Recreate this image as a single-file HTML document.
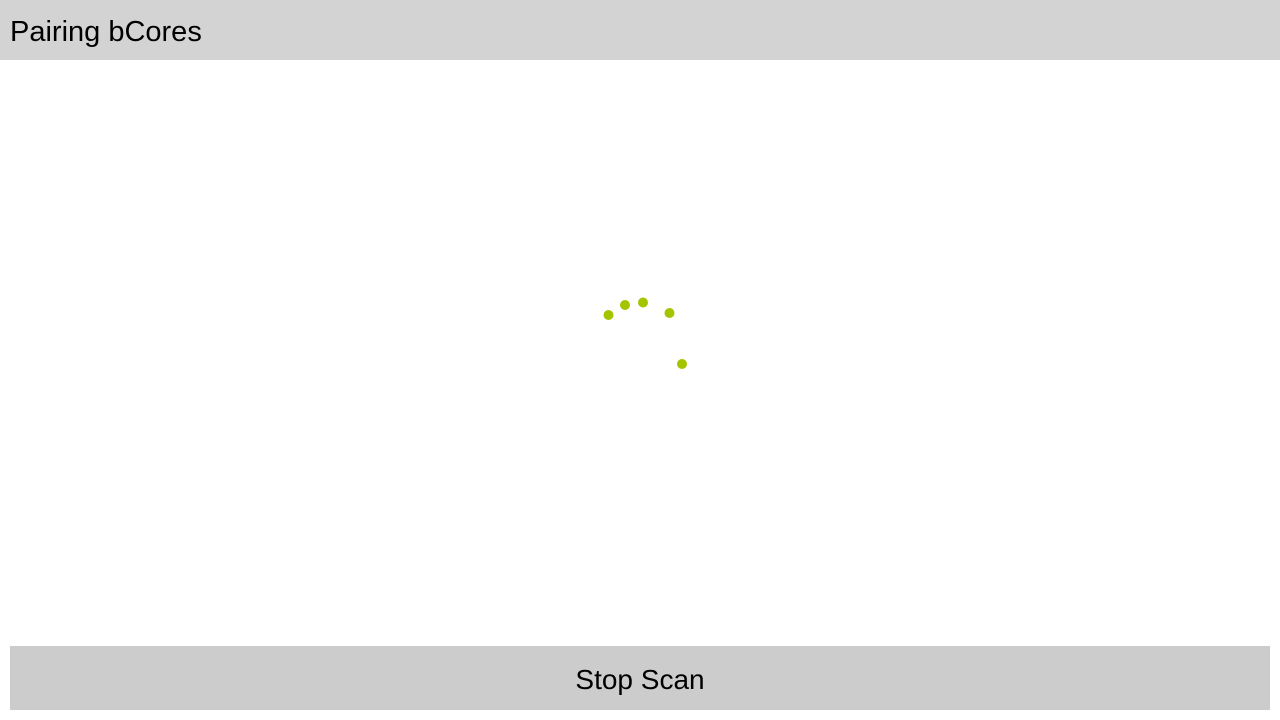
<!DOCTYPE html>
<html>
<head>
<meta charset="utf-8">
<style>
  html,body{margin:0;padding:0;width:1280px;height:720px;background:#fff;overflow:hidden;font-family:"Segoe UI","Liberation Sans",sans-serif;}
  #header{position:absolute;left:0;top:0;width:1280px;height:60px;background:#d3d3d3;}
  #title{position:absolute;left:10px;top:12px;font-size:29px;line-height:40px;color:#000;}
  #btn{position:absolute;left:10px;top:646px;width:1260px;height:64px;background:#cccccc;font-size:28px;color:#000;cursor:pointer;text-align:center;line-height:68px;}
  #spinner{position:absolute;left:0;top:0;}
</style>
</head>
<body>
<div id="header">
  <div id="title">Pairing bCores</div>
</div>
<svg id="spinner" width="1280" height="720">
  <circle cx="608.5" cy="315" r="5" fill="#a4c400"/>
  <circle cx="625" cy="305" r="5" fill="#a4c400"/>
  <circle cx="643" cy="302.5" r="5" fill="#a4c400"/>
  <circle cx="669.5" cy="313" r="5" fill="#a4c400"/>
  <circle cx="682" cy="364" r="5" fill="#a4c400"/>
</svg>
<div id="btn">Stop Scan</div>
</body>
</html>
